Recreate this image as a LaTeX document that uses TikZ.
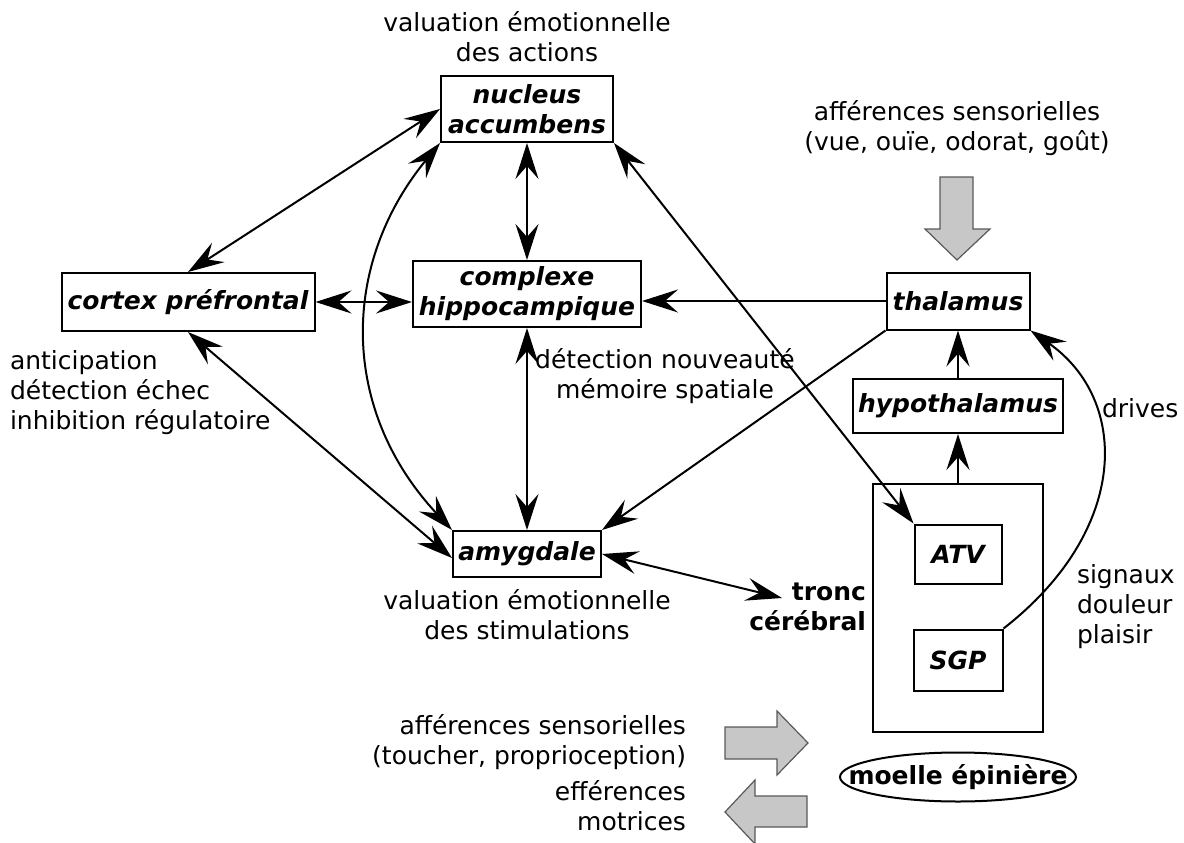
\documentclass[tikz,border=0pt]{standalone}
\usepackage{fontspec}
\setmainfont{DejaVu Sans}
\usepackage{tikz}
\usetikzlibrary{arrows.meta,shapes.geometric}
\newcommand{\txtsize}{\fontsize{25}{30}\selectfont}
\newcommand{\aire}{\txtsize\bfseries\itshape}

\begin{document}
\begin{tikzpicture}[x=1pt,y=-1pt,line width=2pt,>={Stealth[length=36pt,width=23pt,inset=13pt]}]
\tikzstyle{every node}=[font=\txtsize]
\tikzstyle{zone}=[draw,line width=2pt,inner sep=0pt,font=\aire,align=center]
\tikzstyle{note}=[inner sep=0pt]
\tikzstyle{flux}=[draw=black!65,line width=1.2pt,fill=black!22]
\useasboundingbox (0,0) rectangle (1184,843);

% aires
\node[zone,minimum width=172,minimum height=66] (nacc) at (527,109) {nucleus\\accumbens};
\node[zone,minimum width=228,minimum height=66] (hippo) at (527,294) {complexe\\hippocampique};
\node[zone,minimum width=253,minimum height=58] (cpf) at (188,302) {cortex préfrontal};
\node[zone,minimum width=148,minimum height=46] (amyg) at (527,554) {amygdale};
\node[zone,minimum width=143,minimum height=57] (thal) at (958,301) {thalamus};
\node[zone,minimum width=210,minimum height=54] (hypo) at (958,406) {hypothalamus};
\node[draw,inner sep=0pt,minimum width=170,minimum height=248] (tronc) at (958,608) {};
\node[zone,minimum width=87,minimum height=59] (atv) at (958,554) {ATV};
\node[zone,minimum width=89,minimum height=61] (sgp) at (958,660) {SGP};
\node[note,font=\txtsize\bfseries] (moelle) at (958,777) {moelle épinière};
\draw (moelle.center) ellipse [x radius=118, y radius=24.5];

% textes
\node[note,align=center] (valact) at (527,37) {valuation émotionnelle\\des actions};
\node[note,align=center] (valstim) at (527,615) {valuation émotionnelle\\des stimulations};
\node[note,align=left,anchor=west] (fonccpf) at (9,393) {anticipation\\détection échec\\inhibition régulatoire};
\node[note,align=center] (fonchip) at (665,376) {détection nouveauté\\mémoire spatiale};
\node[note,align=center] (affvue) at (957,128) {afférences sensorielles\\(vue, ouïe, odorat, goût)};
\node[note,anchor=west] (drives) at (1101,408) {drives};
\node[note,align=left,anchor=west] (signaux) at (1076,607) {signaux\\douleur\\plaisir};
\node[note,align=right,anchor=east,font=\txtsize\bfseries] (troncl) at (867,607) {tronc\\cérébral};
\node[note,align=right,anchor=east] (afftouch) at (687,742) {afférences sensorielles\\(toucher, proprioception)};
\node[note,align=right,anchor=east] (effmot) at (687,806) {efférences\\motrices};
\coordinate (trtip) at (782,598);

% liaisons
\draw[<->] (nacc.west) -- (cpf.north);
\draw[<->] (nacc.south west) .. controls (340,265) and (340,410) .. (amyg.north west);
\draw[<->] (nacc.south) -- (hippo.north);
\draw[<->] (cpf.east) -- (cpf.east -| hippo.west);
\draw[<->] (cpf.south) -- ([yshift=-4]amyg.west);
\draw[<->] (hippo.south) -- (amyg.north);
\draw[->] (thal.west) -- (thal.west -| hippo.east);
\draw[->] (thal.south west) -- (amyg.north east);
\draw[<->] (nacc.south east) -- (atv.north west);
\draw[<->] (amyg.east) -- (trtip);
\draw[->] (hypo.north) -- (thal.south);
\draw[->] (tronc.north) -- (hypo.south);
\draw[->] (sgp.north east) .. controls (1130,530) and (1130,400) .. (thal.south east);

% grosses fleches
\draw[flux] (940,177) -- (973,177) -- (973,229) -- (990,229) -- (957,260) -- (925,229) -- (940,229) -- cycle;
\draw[flux] (725,727) -- (777,727) -- (777,711) -- (808,743) -- (777,775) -- (777,759) -- (725,759) -- cycle;
\draw[flux] (807,796) -- (755,796) -- (755,780) -- (725,812) -- (755,844) -- (755,827) -- (807,827) -- cycle;
\end{tikzpicture}
\end{document}
